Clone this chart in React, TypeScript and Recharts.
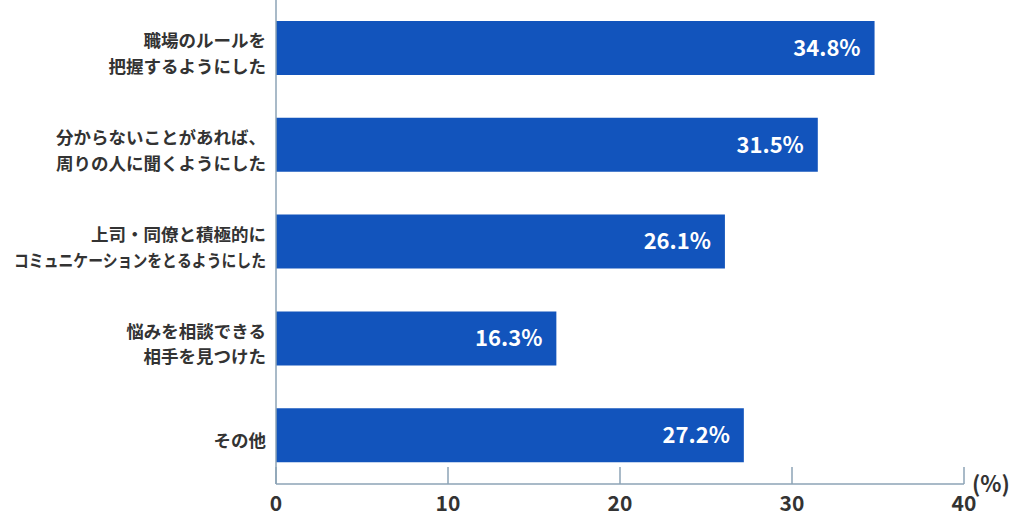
import React from 'react';
import { BarChart, Bar, XAxis, YAxis, LabelList } from 'recharts';

// 回答項目（\n で改行）
const categories = [
    '職場のルールを\n把握するようにした',
    '分からないことがあれば、\n周りの人に聞くようにした',
    '上司・同僚と積極的に\nコミュニケーションをとるようにした',
    '悩みを相談できる\n相手を見つけた',
    'その他',
];
const values = [34.8, 31.5, 26.1, 16.3, 27.2];
const xTicks = [0, 10, 20, 30, 40];

const BAR_COLOR = '#1254BC';
const AXIS_COLOR = '#8DA3B6';
const FONT = '"Noto Sans CJK JP", "Noto Sans", sans-serif';

const data = categories.map((name, i) => ({ name, value: values[i] }));

const CategoryTick = (props: any) => {
    const { x, y, payload } = props;
    const lines = String(payload.value).split('\n');
    const fs = 17.5;
    const lineH = 25.5;
    const start = lines.length === 1 ? 3 : -9;
    return (
        <text
            x={x}
            y={y + start}
            textAnchor="end"
            dominantBaseline="central"
            fontFamily={FONT}
            fontWeight={700}
            fontSize={fs}
            fill="#333"
        >
            {lines.map((line: string, i: number) => (
                <tspan
                    key={i}
                    x={x}
                    dy={i === 0 ? 0 : lineH}
                    textLength={line.length * fs > 252 ? 252 : undefined}
                    lengthAdjust="spacingAndGlyphs"
                >
                    {line}
                </tspan>
            ))}
        </text>
    );
};

const ValueTick = (props: any) => {
    const { x, y, payload } = props;
    return (
        <g>
            <line x1={x} x2={x} y1={y} y2={y - 17} stroke={AXIS_COLOR} strokeWidth={1.5} />
            <text
                x={x}
                y={y + 18}
                textAnchor="middle"
                dominantBaseline="central"
                fontFamily={FONT}
                fontWeight={600}
                fontSize={21}
                fill="#333"
            >
                {payload.value}
            </text>
        </g>
    );
};

const App = () => {
    return (
        <div style={{ position: 'absolute', left: 0, top: 0, width: 1024, height: 523, background: '#fff' }}>
            <BarChart
                width={1024}
                height={523}
                data={data}
                layout="vertical"
                margin={{ top: 0, right: 60, bottom: 0, left: 0 }}
            >
                <XAxis
                    type="number"
                    domain={[0, 40]}
                    ticks={xTicks}
                    height={39}
                    tickLine={false}
                    tickSize={0}
                    tickMargin={0}
                    axisLine={{ stroke: AXIS_COLOR, strokeWidth: 1.5 }}
                    tick={<ValueTick />}
                    interval={0}
                />
                <YAxis
                    type="category"
                    dataKey="name"
                    width={276}
                    tickLine={false}
                    tickSize={0}
                    tickMargin={10}
                    axisLine={{ stroke: AXIS_COLOR, strokeWidth: 1.5 }}
                    tick={<CategoryTick />}
                    interval={0}
                />
                <Bar dataKey="value" fill={BAR_COLOR} barSize={54} isAnimationActive={false}>
                    <LabelList
                        dataKey="value"
                        position="insideRight"
                        offset={14}
                        fill="#fff"
                        fontSize={22}
                        fontWeight={700}
                        fontFamily={FONT}
                        formatter={(v: any) => `${Number(v).toFixed(1)}%`}
                    />
                </Bar>
            </BarChart>
            <span
                style={{
                    position: 'absolute',
                    left: 972,
                    top: 467,
                    fontFamily: FONT,
                    fontSize: 22,
                    fontWeight: 600,
                    color: '#333',
                    lineHeight: '30px',
                }}
            >
                (%)
            </span>
        </div>
    );
};

export default App;
